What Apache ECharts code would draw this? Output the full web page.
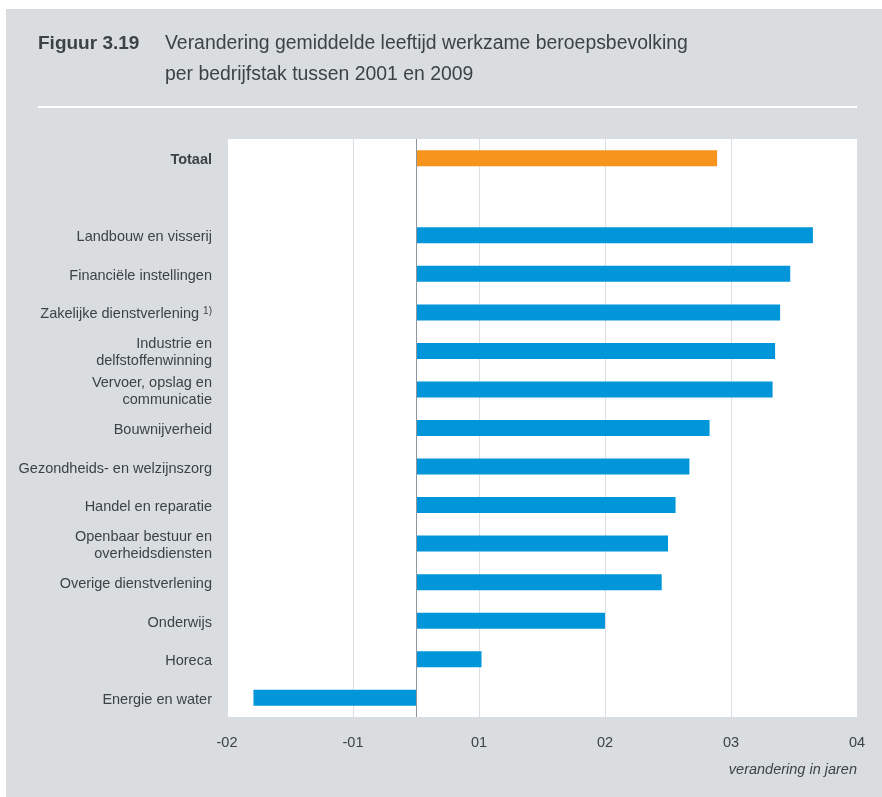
<!DOCTYPE html>
<html>
<head>
<meta charset="utf-8">
<script src="https://cdn.jsdelivr.net/npm/echarts@6/dist/echarts.min.js"></script>
<style>
  html, body { margin: 0; padding: 0; background: #fff; }
  #chart { width: 882px; height: 797px; }
</style>
</head>
<body>
<div id="chart"></div>
<script>
// categorieen, van boven naar beneden (lege regel tussen Totaal en de rest)
var categories = [
  'Totaal', '',
  'Landbouw en visserij',
  'Financiële instellingen',
  'Zakelijke dienstverlening',
  'Industrie en\ndelfstoffenwinning',
  'Vervoer, opslag en\ncommunicatie',
  'Bouwnijverheid',
  'Gezondheids- en welzijnszorg',
  'Handel en reparatie',
  'Openbaar bestuur en\noverheidsdiensten',
  'Overige dienstverlening',
  'Onderwijs',
  'Horeca',
  'Energie en water'
];
var values = [2.39, null, 3.15, 2.97, 2.89, 2.85, 2.83, 2.33, 2.17, 2.06, 2.00, 1.95, 1.50, 0.52, -1.29];
var tickLabels = ['-02', '-01', '01', '02', '03', '04'];
var xMin = -1.5, xMax = 3.5;

var textColor = '#3b4346';
var fontFam = '"Liberation Sans", Arial, sans-serif';

var myChart = echarts.init(document.getElementById('chart'));

var option = {
  backgroundColor: '#ffffff',
  textStyle: { fontFamily: fontFam },
  graphic: [
    { type: 'rect', z: -10, shape: { x: 6, y: 9, width: 876, height: 788 }, style: { fill: '#d9dde0' } },
    { type: 'rect', z: -5, shape: { x: 38, y: 106, width: 819, height: 2 }, style: { fill: '#ffffff' } }
  ],
  title: [
    {
      text: 'Figuur 3.19',
      left: 38, top: 34, padding: 0,
      textStyle: { fontSize: 19, fontWeight: 'bold', color: '#3b4346', fontFamily: fontFam }
    },
    {
      text: 'Verandering gemiddelde leeftijd werkzame beroepsbevolking\nper bedrijfstak tussen 2001 en 2009',
      left: 165, top: 28, padding: 0,
      textStyle: { fontSize: 19.4, fontWeight: 'normal', color: '#3b4346', lineHeight: 31, fontFamily: fontFam }
    },
    {
      text: 'verandering in jaren',
      right: 25, top: 762, padding: 0,
      textStyle: { fontSize: 14.5, fontStyle: 'italic', fontWeight: 'normal', color: textColor, fontFamily: fontFam }
    }
  ],
  grid: {
    left: 227, right: 25, top: 139, bottom: 80,
    show: true, backgroundColor: '#ffffff', borderWidth: 0
  },
  xAxis: {
    type: 'value',
    min: xMin, max: xMax, interval: 1,
    axisLine: { show: false },
    axisTick: { show: false },
    splitLine: { show: true, lineStyle: { color: '#dcdfe2', width: 1 } },
    axisLabel: {
      margin: 18,
      color: textColor,
      fontSize: 14.5,
      formatter: function (v) { return tickLabels[Math.round(v - xMin)]; }
    }
  },
  yAxis: {
    type: 'category',
    inverse: true,
    data: categories,
    axisLine: { show: false },
    axisTick: { show: false },
    splitLine: { show: false },
    axisLabel: {
      margin: 15,
      color: textColor,
      fontSize: 14.5,
      lineHeight: 17,
      align: 'right',
      padding: [4, 0, 0, 0],
      formatter: function (v, i) {
        if (i === 0) return '{b|' + v + '}';
        if (v === 'Zakelijke dienstverlening') return v + ' {sup|1)}';
        return v;
      },
      rich: {
        b: { fontWeight: 'bold', fontSize: 14.5, color: textColor },
        sup: { fontSize: 10, color: textColor, verticalAlign: 'top', padding: [0, 0, 8, 0] }
      }
    }
  },
  series: [{
    type: 'bar',
    barWidth: 16,
    data: values.map(function (v, i) {
      return { value: v, itemStyle: { color: i === 0 ? '#f7941d' : '#0096d9' } };
    }),
    markLine: {
      silent: true,
      symbol: 'none',
      label: { show: false },
      lineStyle: { color: '#8c969c', type: 'solid', width: 1 },
      data: [{ xAxis: 0 }]
    }
  }]
};

myChart.setOption(option);
</script>
</body>
</html>
